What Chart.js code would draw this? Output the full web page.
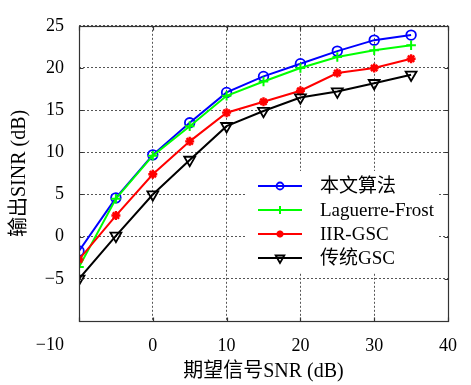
<!DOCTYPE html>
<html>
<head>
<meta charset="utf-8">
<script src="https://cdn.jsdelivr.net/npm/chart.js@4/dist/chart.umd.min.js"></script>
<style>
  html, body { margin: 0; padding: 0; background: #fff; }
  #wrap { width: 471px; height: 385px; }
</style>
</head>
<body>
<div id="wrap"><canvas id="c" width="471" height="385"></canvas></div>
<script>
// ---- data ----
const snr = [-10, -5, 0, 5, 10, 15, 20, 25, 30, 35];
const proposed = [-1.7, 4.6, 9.7, 13.5, 17.1, 19.0, 20.5, 22.0, 23.3, 23.9];
const laguerreFrost = [-3.6, 4.5, 9.6, 13.1, 16.7, 18.4, 20.0, 21.3, 22.1, 22.7];
const iirGsc = [-2.7, 2.5, 7.4, 11.3, 14.7, 16.0, 17.3, 19.4, 20.0, 21.1];
const classicGsc = [-5.0, 0.1, 5.0, 9.1, 13.1, 14.9, 16.5, 17.2, 18.2, 19.2];
const seriesNames = ['本文算法', 'Laguerre-Frost', 'IIR-GSC', '传统GSC'];
const xTicks = [-10, 0, 10, 20, 30, 40];
const yTicks = [-10, -5, 0, 5, 10, 15, 20, 25];

const FONT = '"Liberation Serif", "Noto Sans CJK SC", serif';
const minus = v => (v < 0 ? '\u2212' + Math.abs(v) : String(v));
const pts = arr => arr.map((y, i) => ({ x: snr[i], y }));

const styles = [
  { color: '#0000ff', pointStyle: 'circle', radius: 4.8, bw: 1.8, fill: 'rgba(0,0,0,0)', lr: 3.5, order: 3 },
  { color: '#00ff00', pointStyle: 'cross', radius: 4.8, bw: 2, fill: '#00ff00', lr: 4, order: 2 },
  { color: '#ff0000', pointStyle: 'star', radius: 4.5, bw: 2.4, fill: '#ff0000', lr: 3.5, order: 1 },
  { color: '#000000', pointStyle: 'triangle', radius: 6.3, bw: 1.8, fill: 'rgba(0,0,0,0)', lr: 5, order: 0 }
];
const values = [proposed, laguerreFrost, iirGsc, classicGsc];

const datasets = values.map((v, i) => ({
  label: seriesNames[i],
  data: pts(v),
  borderColor: styles[i].color,
  backgroundColor: styles[i].color,
  borderWidth: 2,
  pointStyle: styles[i].pointStyle,
  pointRadius: styles[i].radius,
  pointBorderWidth: styles[i].bw,
  pointBorderColor: styles[i].color,
  pointBackgroundColor: styles[i].fill,
  pointRotation: styles[i].pointStyle === 'triangle' ? 180 : 0,
  tension: 0,
  order: styles[i].order
}));

const decor = {
  id: 'decor',
  afterDatasetsDraw(chart) {
    const { ctx } = chart;
    ctx.save();
    // legend box
    const lx = 245, ly = 171, lw = 192, lh = 101;
    ctx.fillStyle = '#fff';
    ctx.fillRect(lx, ly, lw, lh);
    const rowY0 = 186, step = 24;
    seriesNames.forEach((name, i) => {
      const y = rowY0 + i * step;
      const s = styles[i];
      ctx.strokeStyle = s.color;
      ctx.lineWidth = 2.2;
      ctx.setLineDash([]);
      ctx.beginPath();
      ctx.moveTo(258, y);
      ctx.lineTo(302, y);
      ctx.stroke();
      ctx.fillStyle = s.fill;
      ctx.lineWidth = s.bw;
      Chart.helpers.drawPoint(ctx, {
        pointStyle: s.pointStyle,
        radius: s.lr,
        rotation: s.pointStyle === 'triangle' ? 180 : 0,
        borderWidth: s.bw
      }, 280, y);
      ctx.fillStyle = '#000';
      ctx.font = '19px ' + FONT;
      ctx.textAlign = 'left';
      ctx.textBaseline = 'middle';
      ctx.fillText(name, 320, y + 1);
    });
    ctx.restore();
  },
  afterDraw(chart) {
    const { ctx, chartArea: a, scales } = chart;
    ctx.save();
    ctx.strokeStyle = '#333';
    ctx.lineWidth = 1.2;
    ctx.setLineDash([]);
    const L = Math.round(a.left) + 0.5, T = Math.round(a.top) + 0.5;
    const R = Math.round(a.right) + 0.5, B = Math.round(a.bottom) + 0.5;
    ctx.strokeRect(L, T, R - L, B - T);
    // inward tick marks on all four sides
    const tl = 4;
    ctx.beginPath();
    xTicks.forEach(v => {
      const x = Math.round(scales.x.getPixelForValue(v)) + 0.5;
      ctx.moveTo(x, B); ctx.lineTo(x, B - tl);
      ctx.moveTo(x, T); ctx.lineTo(x, T + tl);
    });
    yTicks.forEach(v => {
      const y = Math.round(scales.y.getPixelForValue(v)) + 0.5;
      ctx.moveTo(L, y); ctx.lineTo(L + tl, y);
      ctx.moveTo(R, y); ctx.lineTo(R - tl, y);
    });
    ctx.stroke();
    // lower-left corner label (-10), placed as in the reference
    ctx.fillStyle = '#000';
    ctx.font = '18px ' + FONT;
    ctx.textAlign = 'right';
    ctx.textBaseline = 'top';
    ctx.fillText(minus(xTicks[0]), 64, 336);
    ctx.restore();
  }
};

const gridOpts = { color: '#555', lineWidth: 1, drawTicks: false, borderDash: [2, 2] };

new Chart(document.getElementById('c'), {
  type: 'line',
  data: { datasets },
  plugins: [decor],
  options: {
    responsive: false,
    animation: false,
    devicePixelRatio: 1,
    layout: { padding: { top: 13, right: 12, left: 0, bottom: 0 } },
    plugins: { legend: { display: false }, tooltip: { enabled: false } },
    scales: {
      x: {
        type: 'linear',
        min: -10, max: 40,
        afterBuildTicks: s => { s.ticks = xTicks.map(v => ({ value: v })); },
        afterFit: s => { s.height = 64; },
        ticks: {
          padding: 14,
          color: '#000',
          font: { family: FONT, size: 18 },
          maxRotation: 0,
          callback: v => (v === xTicks[0] ? '' : minus(v))
        },
        grid: gridOpts,
        border: { display: false, dash: [2, 2] },
        title: {
          display: true,
          text: '期望信号SNR (dB)',
          color: '#000',
          font: { family: FONT, size: 20 },
          padding: { top: 0, bottom: 1 }
        }
      },
      y: {
        type: 'linear',
        min: -10, max: 25,
        afterBuildTicks: s => { s.ticks = yTicks.map(v => ({ value: v })); },
        afterFit: s => { s.width = 79; },
        ticks: {
          padding: 15,
          color: '#000',
          font: { family: FONT, size: 18 },
          callback: v => (v === yTicks[0] ? '' : minus(v))
        },
        grid: gridOpts,
        border: { display: false, dash: [2, 2] },
        title: {
          display: true,
          text: '输出SINR (dB)',
          color: '#000',
          font: { family: FONT, size: 20 },
          padding: { top: 8, bottom: 0 }
        }
      }
    }
  }
});
</script>
</body>
</html>
